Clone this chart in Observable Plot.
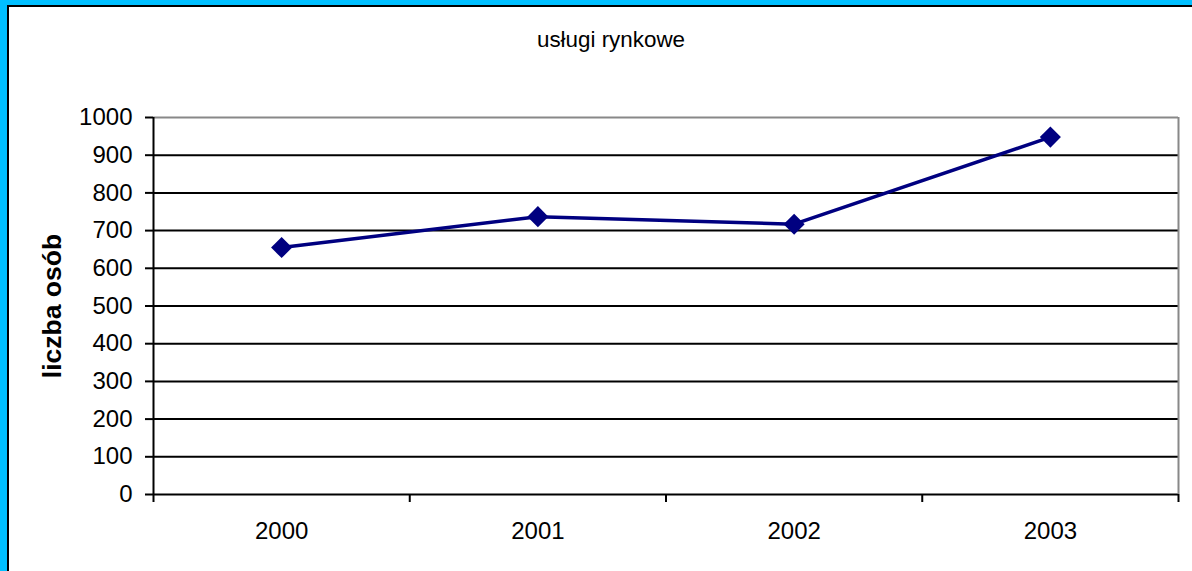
<!DOCTYPE html>
<html><head><meta charset="utf-8">
<script src="https://cdn.jsdelivr.net/npm/d3@7"></script>
<script src="https://cdn.jsdelivr.net/npm/@observablehq/plot@0.6"></script>
<style>
html,body{margin:0;padding:0;background:#fff;}
#frame{position:absolute;left:0;top:0;width:1192px;height:571px;box-sizing:border-box;border-left:7px solid #00BFFF;border-top:5px solid #00BFFF;overflow:hidden;}
#inner{position:absolute;left:0;top:0;right:0;bottom:0;border-left:2px solid #000;border-top:2px solid #000;background:#fff;}
#title{position:absolute;left:402px;top:22px;width:400px;text-align:center;font:22.4px "Liberation Sans",Arial,sans-serif;line-height:22px;color:#000;}
#chart{position:absolute;left:0;top:0;}
</style>
</head><body>
<div id="frame"><div id="inner"><div id="title">usługi rynkowe</div><div id="chart"></div></div></div>
<script>
const years = [2000, 2001, 2002, 2003];
const values = [655, 737, 717, 948];
const yTicks = [0, 100, 200, 300, 400, 500, 600, 700, 800, 900, 1000];
const yLabel = "liczba osób";

const data = years.map((y, i) => ({year: y, value: values[i]}));
const bounds = years.map(y => y - 0.5).concat([years[years.length - 1] + 0.5]);
const yMax = yTicks[yTicks.length - 1];

const plot = Plot.plot({
  width: 1183,
  height: 564,
  marginLeft: 144,
  marginRight: 14,
  marginTop: 110,
  marginBottom: 77,
  style: {background: "transparent", fontFamily: "'Liberation Sans', Arial, sans-serif", fontSize: "24px", color: "#000"},
  x: {domain: [bounds[0], bounds[bounds.length - 1]], axis: null, label: null},
  y: {domain: [0, yMax], axis: null, label: null},
  marks: [
    Plot.ruleY(yTicks.filter(t => t < yMax), {stroke: "#000", strokeWidth: 2}),
    Plot.ruleY([yMax], {stroke: "#888", strokeWidth: 2}),
    Plot.ruleX([bounds[bounds.length - 1]], {stroke: "#888", strokeWidth: 2}),
    Plot.ruleX([bounds[0]], {stroke: "#000", strokeWidth: 2}),
    Plot.axisY({ticks: yTicks, tickSize: 8, tickPadding: 13, tickFormat: d => String(d), strokeWidth: 2, fontSize: 24, label: null}),
    Plot.axisX({ticks: bounds, tickSize: 8, tickFormat: () => "", strokeWidth: 2, label: null}),
    Plot.axisX({ticks: years, tickSize: 0, tickPadding: 27, tickFormat: d => String(d), fontSize: 24, label: null}),
    Plot.line(data, {x: "year", y: "value", stroke: "#000080", strokeWidth: 3.5}),
    Plot.dot(data, {x: "year", y: "value", symbol: "diamond2", fill: "#000080", stroke: "none", r: 9.5}),
    Plot.text([yLabel], {frameAnchor: "left", textAnchor: "middle", dx: -101, rotate: -90, fontWeight: "bold", fontSize: 26.5, fill: "#000"})
  ]
});
document.getElementById("chart").appendChild(plot);
</script>
</body></html>
